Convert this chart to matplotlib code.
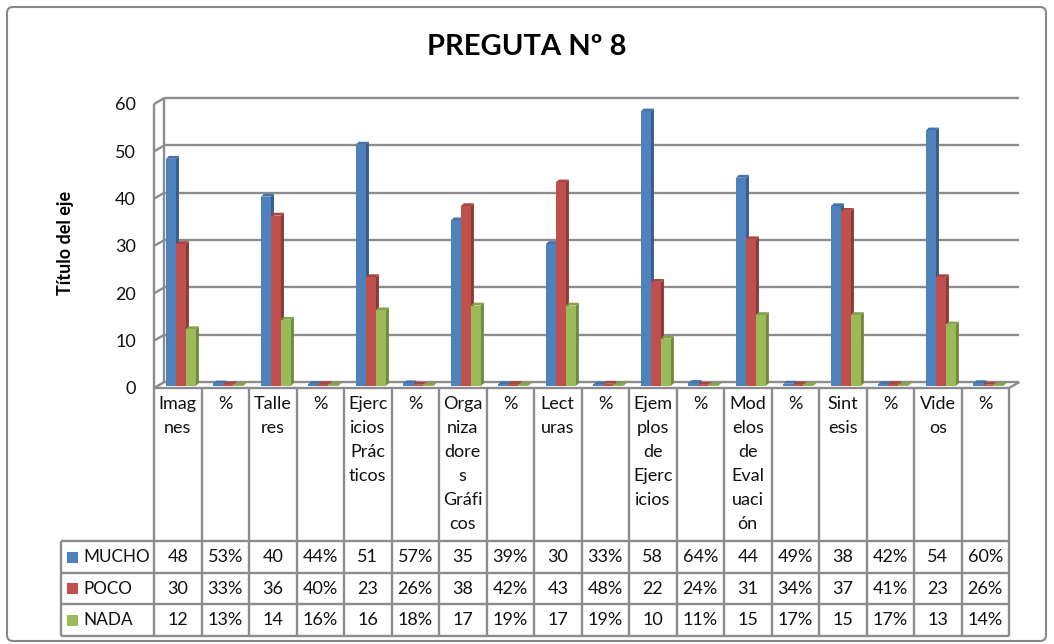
import matplotlib
matplotlib.use("Agg")
import matplotlib.pyplot as plt
import matplotlib.transforms as mtransforms
from matplotlib.patches import FancyBboxPatch, Rectangle, Polygon

plt.rcParams['font.family'] = ['Lato', 'DejaVu Sans']

# ---------------- data ----------------
categories = ["Imag\nnes", "%", "Talle\nres", "%", "Ejerc\nicios\nPrác\nticos", "%",
              "Orga\nniza\ndore\ns\nGráfi\ncos", "%", "Lect\nuras", "%",
              "Ejem\nplos\nde\nEjerc\nicios", "%", "Mod\nelos\nde\nEval\nuaci\nón", "%",
              "Sint\nesis", "%", "Vide\nos", "%"]
series_names = ["MUCHO", "POCO", "NADA"]
mucho = [48, 0.53, 40, 0.44, 51, 0.57, 35, 0.39, 30, 0.33, 58, 0.64, 44, 0.49, 38, 0.42, 54, 0.60]
poco = [30, 0.33, 36, 0.40, 23, 0.26, 38, 0.42, 43, 0.48, 22, 0.24, 31, 0.34, 37, 0.41, 23, 0.26]
nada = [12, 0.13, 14, 0.16, 16, 0.18, 17, 0.19, 17, 0.19, 10, 0.11, 15, 0.17, 15, 0.17, 13, 0.14]
series = [mucho, poco, nada]
yticks = [0, 10, 20, 30, 40, 50, 60]
title = "PREGUTA Nº 8"
ylabel = "Título del eje"

colors = ["#4F81BD", "#C0504D", "#9BBB59"]
side_colors = ["#385D8A", "#8C3836", "#71893F"]
top_colors = ["#4472A8", "#A84542", "#86A34C"]
grid_c = "#8C8C8C"

W, H = 1054, 644
fig = plt.figure(figsize=(W / 100, H / 100), dpi=100)

# overlay axes in pixel coordinates
ov = fig.add_axes([0, 0, 1, 1], zorder=0)
ov.set_xlim(0, W)
ov.set_ylim(H, 0)
ov.axis("off")

# outer border
ov.add_patch(FancyBboxPatch((7, 7), 1039, 634, boxstyle="round,pad=0,rounding_size=6",
                            fill=False, ec="#888888", lw=1.5))

# main axes
x0p, x1p, y0p, y1p = 154, 1009, 388, 104
ax = fig.add_axes([x0p / W, 1 - y0p / H, (x1p - x0p) / W, (y0p - y1p) / H], zorder=1)
ax.patch.set_visible(False)
n = len(categories)
ax.set_xlim(0, n)
ax.set_ylim(0, 60)
for s in ax.spines.values():
    s.set_visible(False)
ax.set_xticks([])
ax.set_yticks(yticks)
ax.set_yticklabels([str(v) for v in yticks], fontsize=13, color="#111111")
ax.tick_params(axis="y", length=0, pad=13)

# 3D walls
dx, dy = 0.22, 1.27
kw = dict(color=grid_c, lw=1.7, clip_on=False, zorder=1, solid_capstyle="butt")
for v in yticks:
    ax.plot([dx, n + dx], [v + dy, v + dy], **kw)
    ax.plot([0, dx], [v, v + dy], **kw)
ax.plot([0, 0], [0, 60], **kw)
ax.plot([dx, dx], [dy, 60 + dy], **kw)
ax.plot([0, n], [0, 0], **kw)
ax.plot([n, n + dx], [0, dy], **kw)

# bars with 3D faces
shift = mtransforms.ScaledTranslation(0, 2 / 100, fig.dpi_scale_trans)
btrans = ax.transData + shift
bw = 0.21
ddx, ddy = 0.065, 0.6
for i in range(n):
    for j, vals in enumerate(series):
        v = vals[i]
        xc = i + 0.565 + (j - 1) * bw
        xl, xr = xc - bw / 2, xc + bw / 2
        z = 2 + i * 0.01 + j * 0.001
        ax.add_patch(Polygon([(xr, 0), (xr + ddx, ddy), (xr + ddx, v + ddy), (xr, v)],
                             closed=True, fc=side_colors[j], ec="none", transform=btrans, zorder=z))
        ax.add_patch(Polygon([(xl, v), (xl + ddx, v + ddy), (xr + ddx, v + ddy), (xr, v)],
                             closed=True, fc=top_colors[j], ec="none", transform=btrans, zorder=z))
        ax.bar([xc], [v], width=bw, color=colors[j], transform=btrans, zorder=z + 0.0005)

# ---------------- data table ----------------
bl = mtransforms.blended_transform_factory(ax.transData, ov.transData)
row_tops = [388, 541, 573, 604, 636]
tkw = dict(color=grid_c, lw=1.7, solid_capstyle="butt")
for i in range(n + 1):
    ov.plot([i, i], [388, 636], transform=bl, **tkw)
for yy in row_tops[1:]:
    ov.plot([0, n], [yy, yy], transform=bl, **tkw)
    ov.plot([61, x0p], [yy, yy], **tkw)
ov.plot([61, 61], [541, 636], **tkw)

fs = 13
tc = "#111111"
for i, c in enumerate(categories):
    ov.text(i + 0.5, 396, c, transform=bl, ha="center", va="top", fontsize=fs,
            linespacing=1.62, color=tc)

def fmt(v):
    return f"{round(v * 100)}%" if v < 1 else f"{v:g}"

for r, vals in enumerate(series):
    yc = (row_tops[r + 1] + row_tops[r + 2]) / 2
    for i, v in enumerate(vals):
        ov.text(i + 0.5, yc, fmt(v), transform=bl, ha="center", va="center",
                fontsize=fs, color=tc)
    ov.add_patch(Rectangle((67, yc - 5.5), 11, 11, fc=colors[r], ec="none"))
    ov.text(83, yc, series_names[r], ha="left", va="center", fontsize=12.3, color=tc)

# titles
ov.text(527, 47, title, ha="center", va="center", fontsize=21, fontweight="bold")
ov.text(65, 243, ylabel, ha="center", va="center", rotation=90, fontsize=13,
        fontweight="bold")

fig.savefig("out.png", dpi=100)
